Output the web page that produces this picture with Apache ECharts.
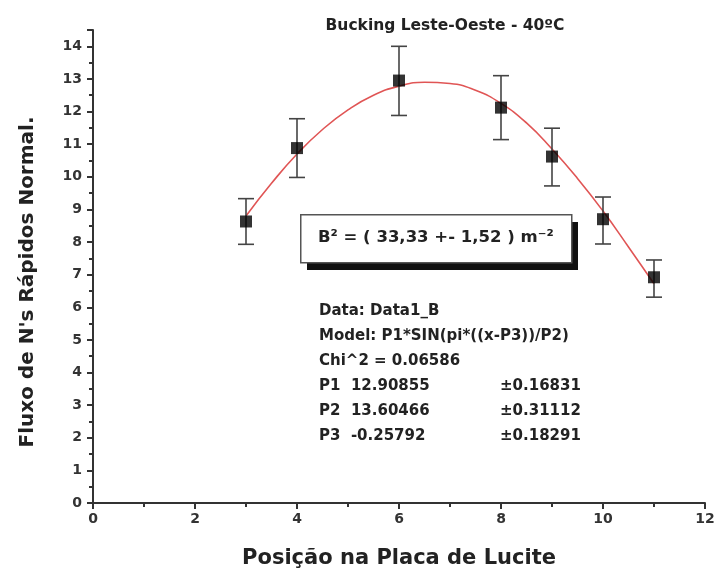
<!DOCTYPE html>
<html>
<head>
<meta charset="utf-8">
<script src="https://cdn.jsdelivr.net/npm/echarts@6/dist/echarts.min.js"></script>
<style>html,body{margin:0;padding:0;background:#fff}#c{width:714px;height:577px}</style>
</head>
<body>
<div id="c"></div>
<script>
// Measured points
const posX = [3, 4, 6, 8, 9, 10, 11];
const fluxY = [8.63, 10.88, 12.95, 12.12, 10.62, 8.70, 6.92];
const errLow = [7.93, 9.98, 11.88, 11.14, 9.72, 7.94, 6.31];
const errHigh = [9.33, 11.78, 14.0, 13.1, 11.49, 9.38, 7.45];
// Fit curve
const fitX = [3, 3.5, 4, 4.5, 5, 5.5, 6, 6.5, 7, 7.5, 8, 8.5, 9, 9.5, 10, 10.5, 11];
const fitY = [8.8, 9.8, 10.7, 11.45, 12.05, 12.5, 12.78, 12.9, 12.86, 12.65, 12.25, 11.65, 10.85, 9.95, 8.95, 7.85, 6.72];
const fitText = [
  'Data: Data1_B',
  'Model: P1*SIN(pi*((x-P3))/P2)',
  'Chi^2 = 0.06586',
  'P1  12.90855',
  'P2  13.60466',
  'P3  -0.25792'
];
const fitErr = ['±0.16831', '±0.31112', '±0.18291'];
const titleText = 'Bucking Leste-Oeste - 40ºC';
const xName = 'Posição na Placa de Lucite';
const yName = 'Fluxo de N\'s Rápidos Normal.';

const wide = '"DejaVu Sans", sans-serif';
const chart = echarts.init(document.getElementById('c'));

const graphics = [];
// B^2 box with shadow
graphics.push({ type: 'rect', left: 307, top: 222, shape: { width: 271, height: 48 }, style: { fill: '#111' }, z: 100 });
graphics.push({ type: 'rect', left: 300, top: 214, shape: { width: 271, height: 48 }, style: { fill: '#fff', stroke: '#555', lineWidth: 1.5 }, z: 101 });
graphics.push({ type: 'text', left: 318, top: 229, style: { text: 'B² = ( 33,33 +- 1,52 ) m⁻²', font: 'bold 16.5px ' + wide, fill: '#222' }, z: 102 });
fitText.forEach((t, i) => {
  graphics.push({ type: 'text', left: 319, top: 304 + i * 25, style: { text: t, font: 'bold 15px ' + wide, fill: '#222' }, z: 102 });
});
fitErr.forEach((t, i) => {
  graphics.push({ type: 'text', left: 500, top: 379 + i * 25, style: { text: t, font: 'bold 15px ' + wide, fill: '#222' }, z: 102 });
});
// rotated y-axis name
graphics.push({
  type: 'text', x: 28, y: 282, rotation: Math.PI / 2,
  style: { text: yName, font: 'bold 20px ' + wide, fill: '#222', textAlign: 'center', textVerticalAlign: 'middle' }, z: 102
});

chart.setOption({
  animation: false,
  backgroundColor: '#fff',
  title: {
    text: titleText,
    left: 440, top: 13, textAlign: 'center',
    textStyle: { fontFamily: wide, fontSize: 15.5, fontWeight: 'bold', color: '#222' }
  },
  grid: { left: 93, right: 9, top: 30, bottom: 74, containLabel: false, outerBoundsMode: 'none' },
  xAxis: {
    type: 'value', min: 0, max: 12, interval: 2,
    name: xName, nameLocation: 'middle', nameGap: 45,
    nameTextStyle: { fontFamily: wide, fontSize: 21, fontWeight: 'bold', color: '#222' },
    axisLine: { show: true, lineStyle: { color: '#333', width: 2 } },
    axisTick: { show: true, inside: false, length: 6, lineStyle: { color: '#333', width: 2 } },
    minorTick: { show: true, splitNumber: 2, length: 4, lineStyle: { color: '#333', width: 2 } },
    axisLabel: { fontFamily: wide, fontSize: 14, fontWeight: 'bold', color: '#333', margin: 9 },
    splitLine: { show: false }
  },
  yAxis: {
    type: 'value', min: 0, max: 14.5, interval: 1,
    axisLine: { show: true, lineStyle: { color: '#333', width: 2 } },
    axisTick: { show: true, inside: false, length: 6, lineStyle: { color: '#333', width: 2 } },
    minorTick: { show: true, splitNumber: 2, length: 4, lineStyle: { color: '#333', width: 2 } },
    axisLabel: { fontFamily: wide, fontSize: 14, fontWeight: 'bold', color: '#333', margin: 11, showMaxLabel: false },
    splitLine: { show: false }
  },
  graphic: graphics,
  series: [
    {
      type: 'line', data: fitX.map((x, i) => [x, fitY[i]]), smooth: true, showSymbol: false,
      lineStyle: { color: '#e05555', width: 1.6 }, z: 2
    },
    {
      type: 'custom',
      data: posX.map((x, i) => [x, errLow[i], errHigh[i]]),
      renderItem: function (params, api) {
        const lo = api.coord([api.value(0), api.value(1)]);
        const hi = api.coord([api.value(0), api.value(2)]);
        const w = 8;
        const st = { stroke: '#444', lineWidth: 1.6 };
        return {
          type: 'group', children: [
            { type: 'line', shape: { x1: lo[0], y1: lo[1], x2: hi[0], y2: hi[1] }, style: st },
            { type: 'line', shape: { x1: lo[0] - w, y1: lo[1], x2: lo[0] + w, y2: lo[1] }, style: st },
            { type: 'line', shape: { x1: hi[0] - w, y1: hi[1], x2: hi[0] + w, y2: hi[1] }, style: st }
          ]
        };
      },
      z: 3
    },
    {
      type: 'scatter', data: posX.map((x, i) => [x, fluxY[i]]),
      symbol: 'rect', symbolSize: 12, itemStyle: { color: '#000' }, z: 4
    }
  ]
});
</script>
</body>
</html>
